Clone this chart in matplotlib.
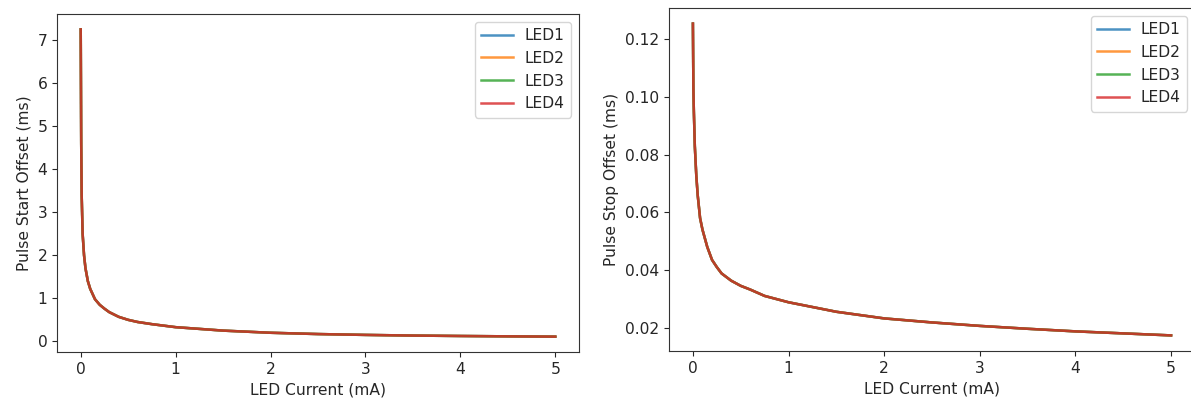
import matplotlib
matplotlib.use("Agg")
import matplotlib.pyplot as plt

# LED drive current (mA)
current = [0, 0.005, 0.01, 0.02, 0.035, 0.05, 0.075, 0.1, 0.15, 0.2, 0.25, 0.3, 0.4,
           0.5, 0.6, 0.75, 1.0, 1.5, 2.0, 2.5, 3.0, 3.5, 4.0, 4.5, 5.0]

# pulse start offset (ms) per LED
start_led1 = [7.25, 4.6, 3.4, 2.5, 2.0, 1.7, 1.4, 1.22, 0.98, 0.85, 0.76, 0.68, 0.57,
              0.5, 0.45, 0.4, 0.33, 0.25, 0.2, 0.17, 0.15, 0.135, 0.125, 0.117, 0.11]
start_led2 = list(start_led1)
start_led3 = list(start_led1)
start_led4 = list(start_led1)

# pulse stop offset (ms) per LED
stop_led1 = [0.1255, 0.103, 0.095, 0.083, 0.073, 0.066, 0.058, 0.054, 0.048, 0.0435,
             0.041, 0.0388, 0.0363, 0.0345, 0.0332, 0.031, 0.0288, 0.0255, 0.0232,
             0.0218, 0.0206, 0.0196, 0.0187, 0.018, 0.0173]
stop_led2 = list(stop_led1)
stop_led3 = list(stop_led1)
stop_led4 = list(stop_led1)

labels = ["LED1", "LED2", "LED3", "LED4"]

plt.rcParams["font.size"] = 11.2
plt.rcParams["lines.linewidth"] = 1.8
plt.rcParams["text.color"] = "#262626"
plt.rcParams["axes.labelcolor"] = "#262626"
plt.rcParams["xtick.color"] = "#262626"
plt.rcParams["ytick.color"] = "#262626"
plt.rcParams["axes.edgecolor"] = "#333333"

fig = plt.figure(figsize=(11.91, 4.0), dpi=100)
ax1 = fig.add_axes([57 / 1191, 48 / 400, 522 / 1191, 338 / 400])
ax2 = fig.add_axes([669 / 1191, 49 / 400, 526 / 1191, 343 / 400])

for ys, lab in zip([start_led1, start_led2, start_led3, start_led4], labels):
    ax1.plot(current, ys, label=lab, alpha=0.8)
ax1.set_xlabel("LED Current (mA)")
ax1.set_ylabel("Pulse Start Offset (ms)")
ax1.legend(loc="upper right")

for ys, lab in zip([stop_led1, stop_led2, stop_led3, stop_led4], labels):
    ax2.plot(current, ys, label=lab, alpha=0.8)
ax2.set_xlabel("LED Current (mA)")
ax2.set_ylabel("Pulse Stop Offset (ms)")
ax2.legend(loc="upper right")

fig.savefig("out.png", dpi=100)
